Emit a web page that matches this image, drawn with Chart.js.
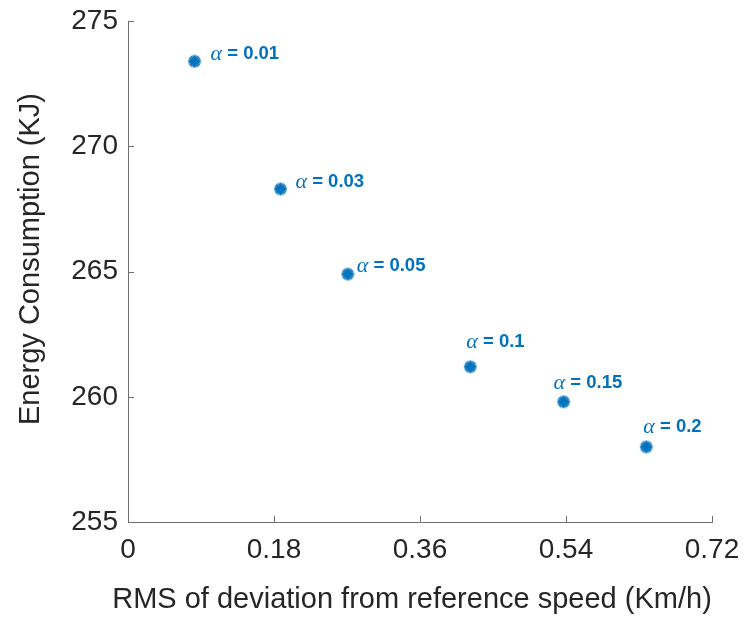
<!DOCTYPE html>
<html>
<head>
<meta charset="utf-8">
<script src="https://cdn.jsdelivr.net/npm/chart.js@4"></script>
<style>
  body { margin: 0; background: #fff; }
  #chart { display: block; }
</style>
</head>
<body>
<canvas id="chart" width="751" height="625"></canvas>
<script>
'use strict';
// data
const rmsDeviation = [0.082, 0.188, 0.271, 0.422, 0.537, 0.639];
const energyKJ = [273.4, 268.3, 264.9, 261.2, 259.8, 258.0];
const alphaValues = ['0.01', '0.03', '0.05', '0.1', '0.15', '0.2'];
const xTicks = [0, 0.18, 0.36, 0.54, 0.72];
const yTicks = [255, 260, 265, 270, 275];
const xTitle = 'RMS of deviation from reference speed (Km/h)';
const yTitle = 'Energy Consumption (KJ)';

const blue = '#0072BD';
const axisColor = '#6e6e6e';
const textColor = '#262626';
const sans = "'Liberation Sans', Arial, Helvetica, sans-serif";

// label offsets from the marker (px): text start and vertical middle
const labelOffsets = [[16, -7], [15, -7], [9, -8], [-4, -25], [-10, -19], [-3, -20]];

// MATLAB-like '*' marker, drawn once on a small canvas
function makeMarker() {
  const c = document.createElement('canvas');
  c.width = 15; c.height = 15;
  const g = c.getContext('2d');
  g.strokeStyle = blue;
  g.fillStyle = blue;
  g.lineWidth = 1.2;
  for (let i = 0; i < 12; i++) {
    const a = i * Math.PI / 12;
    g.beginPath();
    g.moveTo(7.5 - 6.3 * Math.cos(a), 7.5 - 6.3 * Math.sin(a));
    g.lineTo(7.5 + 6.3 * Math.cos(a), 7.5 + 6.3 * Math.sin(a));
    g.stroke();
  }
  g.beginPath();
  g.arc(7.5, 7.5, 3, 0, Math.PI * 2);
  g.fill();
  return c;
}

// ticks pointing inward + axis titles placed like the figure
const axisExtras = {
  id: 'axisExtras',
  afterDraw(chart) {
    const ctx = chart.ctx;
    const xs = chart.scales.x, ys = chart.scales.y;
    const area = chart.chartArea;
    ctx.save();
    ctx.strokeStyle = axisColor;
    ctx.lineWidth = 1;
    xs.ticks.forEach(t => {
      const px = Math.round(xs.getPixelForValue(t.value)) + 0.5;
      ctx.beginPath();
      ctx.moveTo(px, area.bottom);
      ctx.lineTo(px, area.bottom - 6);
      ctx.stroke();
    });
    ys.ticks.forEach(t => {
      const py = Math.round(ys.getPixelForValue(t.value)) + 0.5;
      ctx.beginPath();
      ctx.moveTo(area.left, py);
      ctx.lineTo(area.left + 6, py);
      ctx.stroke();
    });

    ctx.fillStyle = textColor;
    ctx.font = '29px ' + sans;
    ctx.textAlign = 'center';
    ctx.textBaseline = 'middle';
    ctx.fillText(xTitle, 412, 600);
    ctx.translate(31, 259);
    ctx.rotate(-Math.PI / 2);
    ctx.fillText(yTitle, 0, 0);
    ctx.restore();
  }
};

// "α = value" annotations next to each point
const alphaLabels = {
  id: 'alphaLabels',
  afterDatasetsDraw(chart) {
    const ctx = chart.ctx;
    const meta = chart.getDatasetMeta(0);
    ctx.save();
    ctx.fillStyle = blue;
    ctx.textBaseline = 'middle';
    ctx.textAlign = 'left';
    meta.data.forEach((pt, i) => {
      const [dx, dy] = labelOffsets[i];
      let x = pt.x + dx;
      const y = pt.y + dy;
      ctx.font = "italic 22px 'Liberation Serif', 'Times New Roman', serif";
      ctx.fillText('\u03B1', x, y);
      x += ctx.measureText('\u03B1').width;
      ctx.font = 'bold 18.5px ' + sans;
      ctx.fillText(' = ' + alphaValues[i], x, y);
    });
    ctx.restore();
  }
};

const data = {
  datasets: [{
    label: 'Energy',
    data: rmsDeviation.map((x, i) => ({ x: x, y: energyKJ[i] })),
    pointStyle: makeMarker(),
    pointRadius: 7,
    showLine: false
  }]
};

const config = {
  type: 'scatter',
  data: data,
  options: {
    responsive: false,
    animation: false,
    layout: { padding: { top: 21, right: 39, left: 0, bottom: 0 } },
    plugins: { legend: { display: false }, tooltip: { enabled: false } },
    scales: {
      x: {
        type: 'linear',
        min: 0,
        max: 0.72,
        afterBuildTicks: scale => { scale.ticks = xTicks.map(v => ({ value: v })); },
        afterFit: scale => { scale.height = 103; },
        grid: { display: false, drawTicks: false },
        border: { display: true, color: axisColor, width: 1 },
        ticks: {
          padding: 11,
          color: textColor,
          font: { family: sans, size: 28 },
          callback: v => String(v),
          maxRotation: 0
        },
        title: { display: false }
      },
      y: {
        type: 'linear',
        min: 255,
        max: 275,
        afterBuildTicks: scale => { scale.ticks = yTicks.map(v => ({ value: v })); },
        afterFit: scale => { scale.width = 128; },
        grid: { display: false, drawTicks: false },
        border: { display: true, color: axisColor, width: 1 },
        ticks: {
          padding: 10,
          color: textColor,
          font: { family: sans, size: 28, lineHeight: 0.8 },
          callback: v => String(v)
        },
        title: { display: false }
      }
    }
  },
  plugins: [axisExtras, alphaLabels]
};

const canvasElem = document.getElementById('chart');
const myChart = new Chart(canvasElem, config);
</script>
</body>
</html>
